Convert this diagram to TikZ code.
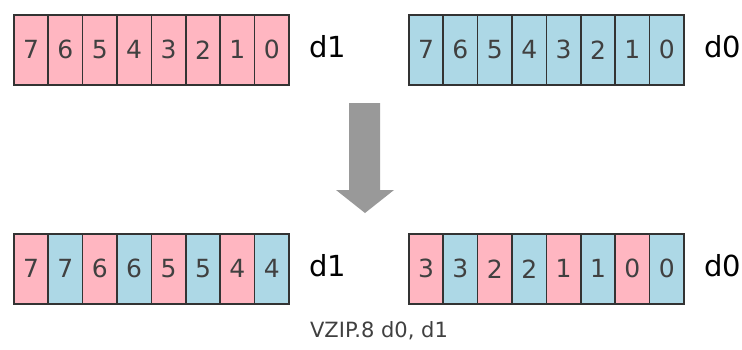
\documentclass[tikz,border=0pt]{standalone}
\usepackage{fontspec}
\setmainfont{DejaVu Sans}
\begin{document}
\begin{tikzpicture}[x=1pt,y=-1pt]
\definecolor{mypink}{HTML}{FFB6C1}
\definecolor{myblue}{HTML}{ADD8E6}
\tikzset{
  cell/.style={draw=black!80,line width=1.6pt,minimum width=34.4pt,minimum height=70pt,inner sep=0pt,anchor=north west,text=black!75,font=\fontsize{25}{25}\selectfont},
  pk/.style={cell,fill=mypink},
  bl/.style={cell,fill=myblue},
  reglabel/.style={font=\fontsize{29}{29}\selectfont,text=black,anchor=center}}
\useasboundingbox (0,0) rectangle (742,349);
% top
\foreach \v [count=\i from 0] in {7,6,5,4,3,2,1,0}{
  \node[pk] (a\i) at (13+\i*34.4,14) {\v};
  \node[bl] (b\i) at (408+\i*34.4,14) {\v};
}
\node[reglabel] (ld1) at (328,47) {d1};
\node[reglabel] (ld0) at (723,47) {d0};
% arrow
\fill[black!40] (349,103) -- (380,103) -- (380,190) -- (394,190) -- (365,213) -- (336,190) -- (349,190) -- cycle;
% bottom
\foreach \v [count=\i from 0] in {7,6,5,4}{
  \node[pk] (c\i) at (13+\i*68.8,233) {\v};
  \node[bl] (d\i) at (47.4+\i*68.8,233) {\v};
}
\foreach \v [count=\i from 0] in {3,2,1,0}{
  \node[pk] (e\i) at (408+\i*68.8,233) {\v};
  \node[bl] (f\i) at (442.4+\i*68.8,233) {\v};
}
\node[reglabel] (ld1b) at (328,266) {d1};
\node[reglabel] (ld0b) at (723,266) {d0};
\node[font=\fontsize{21}{21}\selectfont,text=black!75] (cap) at (379,331) {VZIP.8 d0, d1};
\end{tikzpicture}
\end{document}
